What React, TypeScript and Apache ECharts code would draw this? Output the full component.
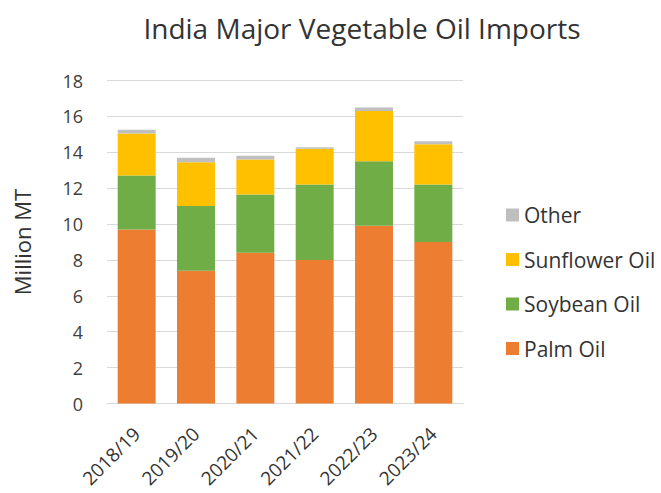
import React, { useEffect, useRef } from "react";
import * as echarts from "echarts";

const categories = ["2018/19", "2019/20", "2020/21", "2021/22", "2022/23", "2023/24"];
const palmOil = [9.7, 7.4, 8.4, 8.0, 9.9, 9.0];
const soybeanOil = [3.0, 3.6, 3.25, 4.2, 3.6, 3.2];
const sunflowerOil = [2.35, 2.45, 1.95, 2.0, 2.8, 2.25];
const other = [0.2, 0.25, 0.2, 0.08, 0.2, 0.17];
const yTicks = { min: 0, max: 18, interval: 2 };

export default function App() {
  const ref = useRef<HTMLDivElement>(null);
  useEffect(() => {
    if (!ref.current) return;
    const chart = echarts.init(ref.current, undefined, { renderer: "svg" });
    const font = "'Open Sans', 'Noto Sans', sans-serif";
    const mk = (name: string, data: number[], color: string) => ({
      name,
      type: "bar",
      stack: "total",
      data,
      barCategoryGap: "36%",
      itemStyle: { color },
    });
    chart.setOption({
      animation: false,
      textStyle: { fontFamily: font },
      title: {
        text: "India Major Vegetable Oil Imports",
        left: 357,
        textAlign: "center",
        top: 9,
        textStyle: { fontFamily: font, fontSize: 28, fontWeight: "normal", color: "#333333" },
      },
      grid: { left: 107, right: 198, top: 80.5, bottom: 89.5, containLabel: false },
      legend: {
        orient: "vertical",
        left: 501,
        top: 198,
        itemWidth: 13,
        itemHeight: 13,
        itemGap: 20.5,
        icon: "rect",
        data: ["Other", "Sunflower Oil", "Soybean Oil", "Palm Oil"],
        textStyle: { fontFamily: font, fontSize: 21, color: "#333333", lineHeight: 24 },
      },
      xAxis: {
        type: "category",
        data: categories,
        axisLine: { lineStyle: { color: "#d9d9d9" } },
        axisTick: { show: false },
        axisLabel: { rotate: 45, fontSize: 19, color: "#333333", margin: 27, interval: 0, fontFamily: font },
      },
      yAxis: {
        type: "value",
        min: yTicks.min,
        max: yTicks.max,
        interval: yTicks.interval,
        name: "Million MT",
        nameLocation: "middle",
        nameGap: 74,
        nameTextStyle: { fontSize: 22, color: "#333333", fontFamily: font },
        axisLine: { show: false },
        axisTick: { show: false },
        splitLine: { lineStyle: { color: "#d9d9d9", width: 1 } },
        axisLabel: { fontSize: 18, color: "#404040", margin: 24, fontFamily: font },
      },
      series: [
        mk("Palm Oil", palmOil, "#ED7D31"),
        mk("Soybean Oil", soybeanOil, "#70AD47"),
        mk("Sunflower Oil", sunflowerOil, "#FFC000"),
        mk("Other", other, "#BFBFBF"),
      ],
    });
    return () => chart.dispose();
  }, []);
  return <div ref={ref} style={{ width: 661, height: 493, position: "absolute", left: 0, top: 0 }} />;
}
